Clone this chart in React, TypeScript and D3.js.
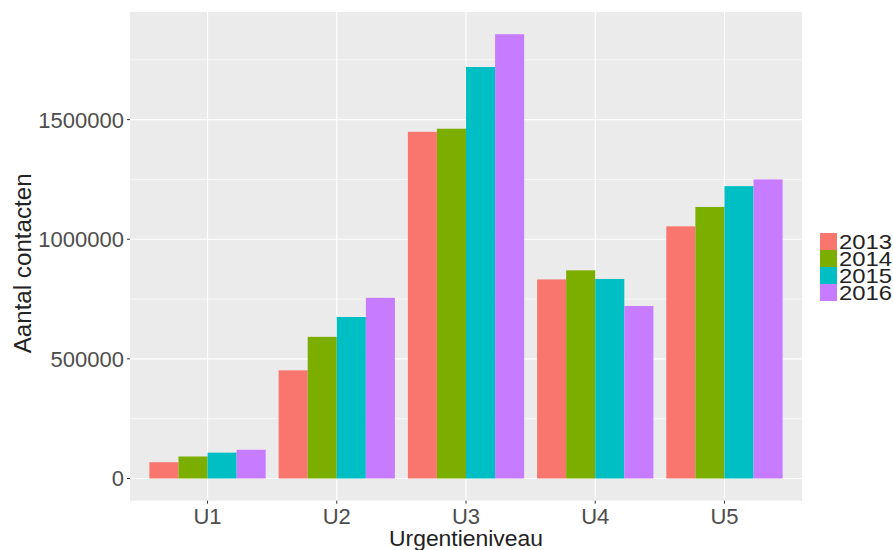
import React from "react";
import * as d3 from "d3";

const categories = ["U1", "U2", "U3", "U4", "U5"];
const years = ["2013", "2014", "2015", "2016"];
const values2013 = [68000, 452000, 1449000, 832000, 1054000];
const values2014 = [92000, 592000, 1462000, 870000, 1135000];
const values2015 = [108000, 675000, 1720000, 834000, 1222000];
const values2016 = [120000, 755000, 1857000, 721000, 1250000];
const yTicks = [0, 500000, 1000000, 1500000];
const yMinor = [250000, 750000, 1250000, 1750000];
const colors = ["#F8766D", "#7CAE00", "#00BFC4", "#C77CFF"];

const series = [values2013, values2014, values2015, values2016];

const W = 893;
const H = 550;
const panel = { left: 130, right: 802, top: 12, bottom: 500.7 };

export default function App() {
  const maxV = d3.max(series.flat()) as number;
  const y = d3
    .scaleLinear()
    .domain([-0.05 * maxV, 1.05 * maxV])
    .range([panel.bottom, panel.top]);
  const x = d3
    .scaleLinear()
    .domain([0.4, categories.length + 0.6])
    .range([panel.left, panel.right]);
  const dodge = 0.9;
  const bw = dodge / years.length;
  const font = "'Liberation Sans', Arial, sans-serif";

  return (
    <svg
      width={W}
      height={H}
      style={{ position: "absolute", left: 0, top: 0, background: "#fff" }}
      fontFamily={font}
    >
      <rect
        x={panel.left}
        y={panel.top}
        width={panel.right - panel.left}
        height={panel.bottom - panel.top}
        fill="#EBEBEB"
      />
      {yMinor.map((v) => (
        <line
          key={"mn" + v}
          x1={panel.left}
          x2={panel.right}
          y1={y(v)}
          y2={y(v)}
          stroke="#fff"
          strokeWidth={0.6}
        />
      ))}
      {yTicks.map((v) => (
        <line
          key={"mj" + v}
          x1={panel.left}
          x2={panel.right}
          y1={y(v)}
          y2={y(v)}
          stroke="#fff"
          strokeWidth={1.2}
        />
      ))}
      {categories.map((c, i) => (
        <line
          key={"vx" + c}
          x1={x(i + 1)}
          x2={x(i + 1)}
          y1={panel.top}
          y2={panel.bottom}
          stroke="#fff"
          strokeWidth={1.2}
        />
      ))}
      {series.map((vals, s) =>
        vals.map((v, i) => {
          const x0 = x(i + 1 - dodge / 2 + s * bw);
          const x1 = x(i + 1 - dodge / 2 + (s + 1) * bw);
          return (
            <rect
              key={`b${s}-${i}`}
              x={x0}
              y={y(v)}
              width={x1 - x0}
              height={y(0) - y(v)}
              fill={colors[s]}
            />
          );
        })
      )}
      {yTicks.map((v) => (
        <g key={"yt" + v}>
          <line
            x1={panel.left - 3}
            x2={panel.left}
            y1={y(v)}
            y2={y(v)}
            stroke="#333"
            strokeWidth={1}
          />
          <text
            x={panel.left - 6}
            y={y(v)}
            dy="0.36em"
            textAnchor="end"
            fontSize={22}
            fill="#4D4D4D"
          >
            {String(v)}
          </text>
        </g>
      ))}
      {categories.map((c, i) => (
        <g key={"xt" + c}>
          <line
            x1={x(i + 1)}
            x2={x(i + 1)}
            y1={panel.bottom}
            y2={panel.bottom + 3}
            stroke="#333"
            strokeWidth={1}
          />
          <text
            x={x(i + 1)}
            y={panel.bottom + 23}
            textAnchor="middle"
            fontSize={22}
            fill="#4D4D4D"
          >
            {c}
          </text>
        </g>
      ))}
      <text
        x={(panel.left + panel.right) / 2}
        y={546}
        textAnchor="middle"
        fontSize={22}
        textLength={154}
        lengthAdjust="spacingAndGlyphs"
        fill="#222"
      >
        Urgentieniveau
      </text>
      <text
        transform={`translate(31, ${(panel.top + panel.bottom) / 2 + 7}) rotate(-90)`}
        textAnchor="middle"
        fontSize={23}
        textLength={180}
        lengthAdjust="spacingAndGlyphs"
        fill="#222"
      >
        Aantal contacten
      </text>
      {years.map((yr, i) => (
        <g key={"lg" + yr} transform={`translate(820, ${233 + i * 17})`}>
          <rect x={0} y={0} width={17} height={17} fill={colors[i]} />
          <text
            x={19}
            y={8.5}
            dy="0.36em"
            fontSize={21}
            textLength={53}
            lengthAdjust="spacingAndGlyphs"
            fill="#222"
          >
            {yr}
          </text>
        </g>
      ))}
    </svg>
  );
}
